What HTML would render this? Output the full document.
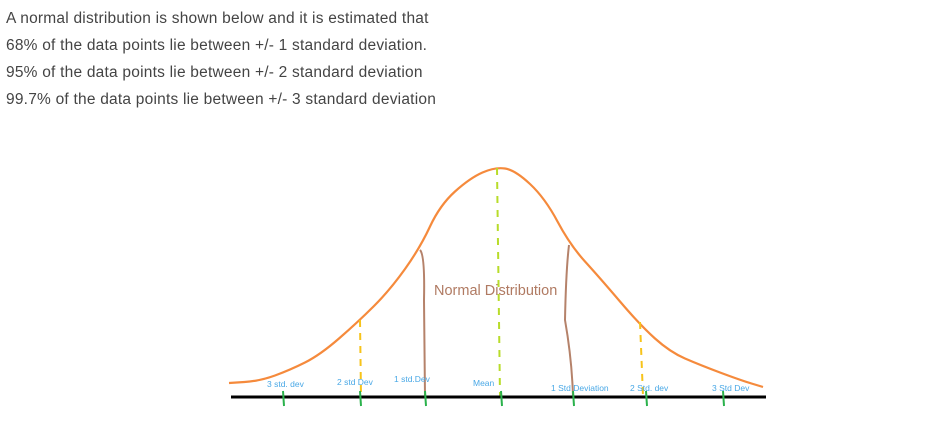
<!DOCTYPE html>
<html><head><meta charset="utf-8"><style>
body{margin:0;width:929px;height:426px;background:#fff;overflow:hidden;font-family:"Liberation Sans",sans-serif}
.t{position:absolute;left:6px;font-size:15.5px;letter-spacing:0.22px;color:#444;white-space:nowrap}
svg{position:absolute;left:0;top:0}
</style></head><body>
<div class="t" style="top:10px">A normal distribution is shown below and it is estimated that</div>
<div class="t" style="top:37px">68% of the data points lie between +/- 1 standard deviation.</div>
<div class="t" style="top:64px">95% of the data points lie between +/- 2 standard deviation</div>
<div class="t" style="top:91px">99.7% of the data points lie between +/- 3 standard deviation</div>
<svg width="929" height="426">
<g id="g"></g>
</svg>
<script>
const curveX=[229,260,290,320,358,390,420,440,470,495,515,545,570,600,640,670,700,740,763];
const curveY=[383,381,370,355,322,290,248,205,178,167,170,198,245,278,325,352,365,380,387];
const tickX=[283,360,425,501,573,646,723];
const labels=["3 std. dev","2 std Dev","1 std.Dev","Mean","1 Std Deviation","2 Std. dev","3 Std Dev"];
const labelX=[267,337,394,473,551,630,712];
const labelY=[387,385,382,386,391,391,391];
const ns="http://www.w3.org/2000/svg",g=document.getElementById('g');
function mk(t,a){const e=document.createElementNS(ns,t);for(const k in a)e.setAttribute(k,a[k]);g.appendChild(e);return e;}
let d="M"+curveX[0]+","+curveY[0];
for(let i=1;i<curveX.length;i++){const mx=(curveX[i-1]+curveX[i])/2,my=(curveY[i-1]+curveY[i])/2;d+=" Q"+curveX[i-1]+","+curveY[i-1]+" "+mx+","+my;}
d+=" L"+curveX[curveX.length-1]+","+curveY[curveY.length-1];
let e=mk('path',{d:d,fill:'none',stroke:'#f58a3c','stroke-width':2.2});

e=mk('path',{d:'M420,250 Q425,255 424,300 L425,397',fill:'none',stroke:'#b5826a','stroke-width':2});

e=mk('path',{d:'M569,245 Q566,270 565,320 Q572,360 573,397',fill:'none',stroke:'#b5826a','stroke-width':2});

e=mk('line',{x1:360,y1:320,x2:361,y2:396,stroke:'#f7c31a','stroke-width':2,'stroke-dasharray':'7 6'});

e=mk('line',{x1:640,y1:322,x2:643,y2:396,stroke:'#f7c31a','stroke-width':2,'stroke-dasharray':'7 6'});

e=mk('line',{x1:497,y1:168,x2:500,y2:396,stroke:'#b8dc2a','stroke-width':2,'stroke-dasharray':'7 7'});

e=mk('line',{x1:231,y1:397,x2:766,y2:397,stroke:'#000','stroke-width':3});

tickX.forEach((x,i)=>{const t=mk('line',{x1:x,y1:391,x2:x+1,y2:406,stroke:'#2bb24c','stroke-width':2});

const l=mk('text',{x:labelX[i],y:labelY[i],'font-size':8.5,fill:'#49a8e6','font-family':'Liberation Sans, sans-serif'});l.textContent=labels[i];
});
e=mk('text',{x:434,y:295,'font-size':14.5,fill:'#b07a62','font-family':'Liberation Sans, sans-serif'});e.textContent='Normal Distribution';

</script>
</body></html>
